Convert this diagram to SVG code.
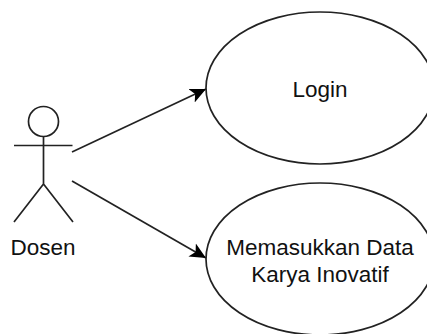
<svg xmlns="http://www.w3.org/2000/svg" width="427" height="334" viewBox="0 0 427 334">
<style>
.s{fill:none;stroke:#222;stroke-width:1.7}
.e{fill:#fff;stroke:#222;stroke-width:1.7}
text{font-family:"Liberation Sans",Arial,sans-serif;font-size:22.500px;fill:#111;text-anchor:middle}
</style>
<defs><marker id="a" markerUnits="userSpaceOnUse" markerWidth="17" markerHeight="16" refX="16" refY="8" orient="auto"><path d="M0 0.500L16 8L0 15.500L4 8Z" fill="#000"/></marker></defs>
<rect width="427" height="334" fill="#fff"/>
<g id="connectors">
<path class="s" d="M72 152L206 89" marker-end="url(#a)"/>
<path class="s" d="M72 181L206 258" marker-end="url(#a)"/>
</g>
<g id="actor-dosen">
<circle class="e" cx="43.500" cy="121.500" r="15"/>
<path class="s" d="M43.500 136.500V184M14 145.500H72.500M43.500 184L14 222M43.500 184L73 222"/>
<text x="43" y="255">Dosen</text>
</g>
<g id="usecase-login">
<ellipse class="e" cx="320" cy="88" rx="114" ry="76"/>
<text x="320" y="97">Login</text>
</g>
<g id="usecase-data">
<ellipse class="e" cx="320" cy="259" rx="114" ry="76"/>
<text x="320" y="255">Memasukkan Data</text>
<text x="320" y="282">Karya Inovatif</text>
</g>
</svg>
